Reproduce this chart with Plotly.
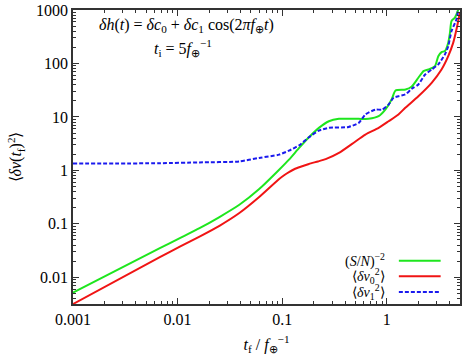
import plotly.graph_objects as go

# values (log-log)
green_x = [0.001, 0.00676, 0.0105, 0.0162, 0.0251, 0.0389, 0.0602, 0.0934, 0.116, 0.145, 0.18,
           0.224, 0.279, 0.348, 0.45, 0.538, 0.67, 0.834, 0.966, 1.11, 1.21, 1.51, 1.72, 2.0,
           2.24, 2.49, 2.88, 3.10, 3.33, 3.59, 3.86, 4.01, 4.15, 4.47, 4.81, 5.0]
green_y = [0.00515, 0.035, 0.054, 0.083, 0.134, 0.227, 0.448, 1.03, 1.59, 2.63, 4.16,
           6.24, 8.3, 9.2, 9.2, 9.2, 9.2, 10.3, 13.7, 21.2, 31.2, 32.6, 36.6, 54,
           72, 77, 89, 137, 163, 171, 245, 377, 622, 721, 1030, 1500]

red_x = [0.001, 0.00676, 0.0105, 0.0162, 0.0251, 0.0389, 0.0602, 0.0934, 0.105, 0.116, 0.13,
         0.15, 0.18, 0.22, 0.26, 0.348, 0.465, 0.623, 0.834, 1.04, 1.29, 1.50, 2.0, 2.68,
         3.33, 3.86, 4.31, 4.63, 4.99]
red_y = [0.00316, 0.0237, 0.0376, 0.0578, 0.0918, 0.159, 0.317, 0.69, 0.82, 0.93, 1.05,
         1.17, 1.32, 1.47, 1.62, 2.12, 3.13, 4.67, 6.24, 8.3, 11.1, 14.8, 24.4, 43.5,
         77, 137, 245, 435, 900]

blue_x = [0.001, 0.00676, 0.0162, 0.0389, 0.0602, 0.0934, 0.116, 0.145, 0.18, 0.224, 0.279,
          0.431, 0.538, 0.623, 0.778, 0.9, 1.04, 1.16, 1.29, 1.50, 1.73, 2.0, 2.32, 2.68,
          3.10, 3.59, 3.86, 4.15, 4.63, 4.81, 5.0]
blue_y = [1.34, 1.36, 1.41, 1.47, 1.71, 1.97, 2.34, 2.94, 4.16, 5.55, 6.24,
          6.5, 7.74, 11.1, 13.7, 13.7, 17.1, 22.8, 24.4, 26.3, 33.6, 40.5, 62, 77,
          96, 148, 211, 404, 670, 1030, 1500]

x_ticks = [0.001, 0.01, 0.1, 1]
x_labels = ["0.001", "0.01", "0.1", "1"]
y_ticks = [0.01, 0.1, 1, 10, 100, 1000]
y_labels = ["0.01", "0.1", "1", "10", "100", "1000"]
x_minor = [k * d for d in [0.001, 0.01, 0.1, 1] for k in range(2, 10)]
y_minor = [k * d for d in [0.001, 0.01, 0.1, 1, 10, 100] for k in range(2, 10)]

legend_names = ["(<i>S</i>/<i>N</i>)<sup>−2</sup>",
                "⟨<i>δv</i><sub>0</sub><sup>2</sup>⟩",
                "⟨<i>δv</i><sub>1</sub><sup>2</sup>⟩"]

GREEN = "#1ee61e"
RED = "#f01414"
BLUE = "#1a1aee"
FONT = "Liberation Serif"

fig = go.Figure()
fig.add_trace(go.Scatter(x=green_x, y=green_y, mode="lines", line=dict(color=GREEN, width=2, shape="spline", smoothing=0.6)))
fig.add_trace(go.Scatter(x=red_x, y=red_y, mode="lines", line=dict(color=RED, width=2, shape="spline", smoothing=0.6)))
fig.add_trace(go.Scatter(x=blue_x, y=blue_y, mode="lines", line=dict(color=BLUE, width=2, dash="4px,2px", shape="spline", smoothing=0.6)))

# hand-made legend: text on the left, sample line on the right
for i, (name, col) in enumerate(zip(legend_names, [GREEN, RED, BLUE])):
    yp = 0.147 - i * 0.053
    fig.add_annotation(x=0.812, y=yp, xref="paper", yref="paper", text=name, showarrow=False,
                       xanchor="right", yanchor="middle", font=dict(family=FONT, size=14, color="black"))
    fig.add_shape(type="line", xref="paper", yref="paper", x0=0.842, x1=0.95, y0=yp, y1=yp,
                  line=dict(color=col, width=2, dash="4px,2px" if i == 2 else "solid"))

fig.add_annotation(x=0.293, y=0.946, xref="paper", yref="paper", showarrow=False,
                   xanchor="center", yanchor="middle",
                   text="<i>δh</i>(<i>t</i>) = <i>δc</i><sub>0</sub> + <i>δc</i><sub>1</sub> cos(2<i>πf</i><sub>⊕</sub><i>t</i>)",
                   font=dict(family=FONT, size=16, color="black"))
fig.add_annotation(x=0.285, y=0.871, xref="paper", yref="paper", showarrow=False,
                   xanchor="center", yanchor="middle",
                   text="<i>t</i><sub>i</sub> = 5<i>f</i><sub>⊕</sub><sup>−1</sup>",
                   font=dict(family=FONT, size=16, color="black"))

axis_common = dict(showline=True, linecolor="#333", linewidth=1.5, mirror="allticks",
                   ticks="inside", ticklen=6, tickcolor="#333", showgrid=False, zeroline=False,
                   ticklabeloverflow="allow",
                   tickfont=dict(family=FONT, size=16, color="black"))

fig.update_xaxes(type="log", range=[-3, 0.699], tickvals=x_ticks, ticktext=x_labels,
                 minor=dict(tickmode="array", tickvals=x_minor, ticks="inside", ticklen=3,
                            tickcolor="#333", showgrid=False),
                 title=dict(text="<i>t</i><sub>f</sub> / <i>f</i><sub>⊕</sub><sup>−1</sup>",
                            font=dict(family=FONT, size=16, color="black"), standoff=13),
                 **axis_common)
fig.update_yaxes(type="log", range=[-2.5, 3], tickvals=y_ticks, ticktext=y_labels,
                 minor=dict(tickmode="array", tickvals=y_minor, ticks="inside", ticklen=3,
                            tickcolor="#333", showgrid=False),
                 title=dict(text="⟨<i>δv</i>(<i>t</i><sub>f</sub>)<sup>2</sup>⟩",
                            font=dict(family=FONT, size=16, color="black"), standoff=10),
                 **axis_common)

fig.update_layout(width=463, height=355, showlegend=False, hovermode=False,
                  margin=dict(l=73, r=1, t=10, b=51),
                  plot_bgcolor="white", paper_bgcolor="white")

# drop the browser's default 8px body margin so the figure sits at the page corner
fig.write_html("out.html", config={"displayModeBar": False},
               post_script="document.body.style.margin='0';")
